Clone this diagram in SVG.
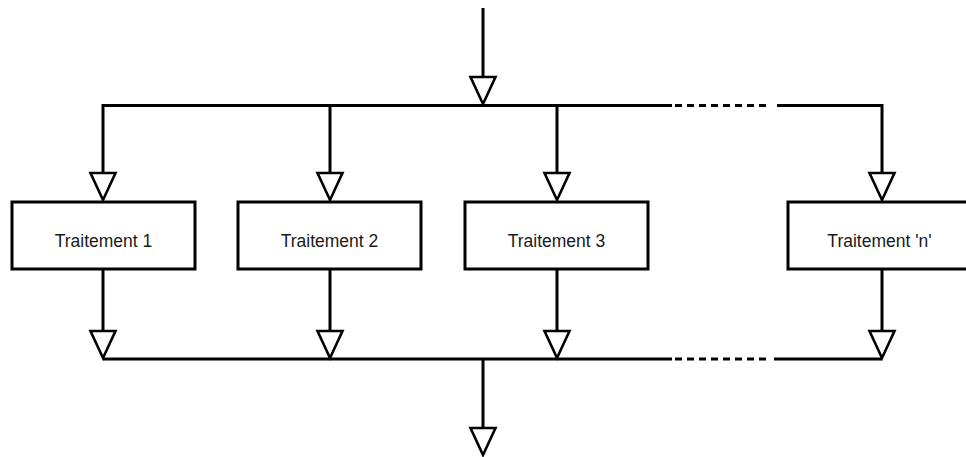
<svg xmlns="http://www.w3.org/2000/svg" width="966" height="457" viewBox="0 0 966 457">
<style>
.ln{stroke:#000;stroke-width:3;fill:none}
.dash{stroke:#000;stroke-width:3;fill:none;stroke-dasharray:7 5}
.tri{stroke:#000;stroke-width:2.6;fill:#fff;stroke-linejoin:miter}
.box{stroke:#000;stroke-width:3;fill:#fff}
.lbl{font-family:"Liberation Sans",Arial,sans-serif;font-size:17.5px;fill:#1a1a1a;text-anchor:middle}
</style>
<defs>
<polygon id="arr" class="tri" points="-12.5,-27 12.5,-27 0,0"/>
</defs>
<g id="connectors">
<line class="ln" x1="483" y1="8" x2="483" y2="80"/>
<polyline class="ln" points="103,172 103,105.5 672,105.5"/>
<line class="dash" x1="675" y1="105.5" x2="770" y2="105.5"/>
<polyline class="ln" points="777,105.5 882,105.5 882,172"/>
<line class="ln" x1="330" y1="105.5" x2="330" y2="172"/>
<line class="ln" x1="557" y1="105.5" x2="557" y2="172"/>
<line class="ln" x1="103" y1="269" x2="103" y2="332"/>
<line class="ln" x1="330" y1="269" x2="330" y2="332"/>
<line class="ln" x1="557" y1="269" x2="557" y2="332"/>
<line class="ln" x1="882" y1="269" x2="882" y2="332"/>
<polyline class="ln" points="103,359 103,359 672,359"/>
<line class="dash" x1="675" y1="359" x2="770" y2="359"/>
<line class="ln" x1="774" y1="359" x2="882" y2="359"/>
<line class="ln" x1="483" y1="359" x2="483" y2="430"/>
<use href="#arr" x="483" y="104"/>
<use href="#arr" x="103" y="200"/>
<use href="#arr" x="330" y="200"/>
<use href="#arr" x="557" y="200"/>
<use href="#arr" x="882" y="200"/>
<use href="#arr" x="103" y="358"/>
<use href="#arr" x="330" y="358"/>
<use href="#arr" x="557" y="358"/>
<use href="#arr" x="882" y="358"/>
<use href="#arr" x="483" y="455"/>
</g>
<g id="t1"><rect class="box" x="12" y="202" width="183" height="67"/><text class="lbl" x="103.5" y="247">Traitement 1</text></g>
<g id="t2"><rect class="box" x="238" y="202" width="183" height="67"/><text class="lbl" x="329.5" y="247">Traitement 2</text></g>
<g id="t3"><rect class="box" x="465" y="202" width="183" height="67"/><text class="lbl" x="556.5" y="247">Traitement 3</text></g>
<g id="tn"><rect class="box" x="788" y="202" width="183" height="67"/><text class="lbl" x="879.5" y="247">Traitement 'n'</text></g>
</svg>
